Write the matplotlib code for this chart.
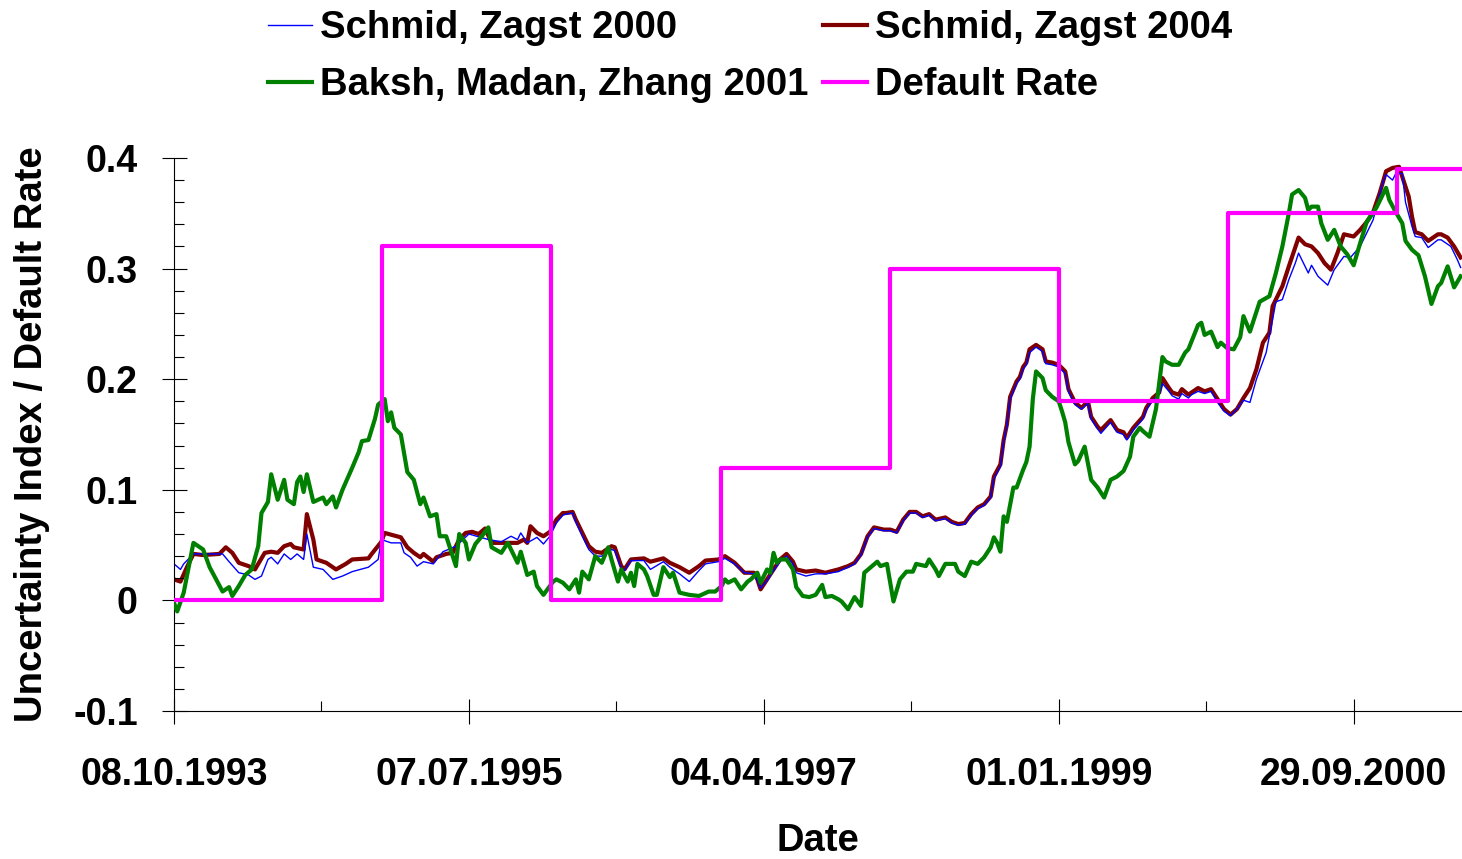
import numpy as np
import matplotlib
matplotlib.use('Agg')
import matplotlib.pyplot as plt
import matplotlib.dates as mdates
from matplotlib.ticker import MultipleLocator, AutoMinorLocator, FixedLocator

# Series are sampled weekly, starting at 08.10.1993 (x = weeks since start)
start = np.datetime64('1993-10-08')

sz2000_weeks = [0, 2, 3, 6, 15, 17, 20, 23, 25, 27, 29, 30, 32, 34, 36, 38, 40, 41, 43, 46,
                49, 52, 55, 60, 63, 64, 67, 70, 71, 73, 75, 77, 80, 83, 87, 91, 97, 101, 104, 106,
                107, 109, 112, 114, 116, 118, 120, 121, 123, 124, 126, 128, 130, 132, 135, 136, 138, 139, 141, 145,
                147, 151, 153, 156, 159, 162, 164, 168, 170, 173, 176, 179, 180, 181, 183, 185, 187, 189, 191, 192,
                195, 198, 201, 205, 208, 210, 212, 214, 216, 219, 221, 223, 225, 227, 229, 231, 233, 235, 238, 240,
                242, 244, 246, 248, 250, 252, 253, 255, 256, 257, 258, 260, 261, 262, 263, 264, 266, 268, 269, 271,
                273, 275, 276, 278, 280, 282, 283, 285, 286, 289, 291, 293, 294, 296, 299, 300, 302, 304, 305, 307,
                308, 310, 311, 313, 314, 316, 318, 320, 322, 324, 326, 328, 330, 332, 334, 337, 339, 340, 342, 344,
                346, 347, 350, 351, 353, 356, 358, 361, 363, 366, 368, 370, 373, 374, 376, 377, 379, 380, 382, 383,
                385, 387, 390, 391, 394, 396, 397]
sz2000_vals = [0.033, 0.028, 0.033, 0.042, 0.042, 0.035, 0.025, 0.023, 0.019, 0.022, 0.037, 0.039, 0.033, 0.042, 0.037, 0.042, 0.037, 0.060, 0.030, 0.028,
               0.019, 0.022, 0.026, 0.030, 0.037, 0.055, 0.052, 0.052, 0.043, 0.039, 0.031, 0.035, 0.033, 0.044, 0.049, 0.060, 0.055, 0.053, 0.058, 0.055,
               0.061, 0.052, 0.057, 0.051, 0.058, 0.070, 0.077, 0.078, 0.079, 0.071, 0.058, 0.046, 0.040, 0.040, 0.046, 0.045, 0.029, 0.027, 0.036, 0.036,
               0.028, 0.035, 0.030, 0.024, 0.017, 0.027, 0.033, 0.035, 0.038, 0.033, 0.025, 0.024, 0.018, 0.011, 0.018, 0.027, 0.035, 0.040, 0.033, 0.025,
               0.022, 0.024, 0.024, 0.026, 0.030, 0.033, 0.041, 0.057, 0.065, 0.063, 0.063, 0.061, 0.072, 0.079, 0.079, 0.075, 0.077, 0.072, 0.074, 0.070,
               0.068, 0.069, 0.077, 0.083, 0.086, 0.093, 0.110, 0.121, 0.143, 0.158, 0.182, 0.196, 0.200, 0.209, 0.213, 0.224, 0.229, 0.225, 0.214, 0.213,
               0.211, 0.205, 0.189, 0.177, 0.173, 0.178, 0.164, 0.155, 0.151, 0.161, 0.152, 0.150, 0.145, 0.154, 0.164, 0.172, 0.181, 0.186, 0.196, 0.189,
               0.185, 0.182, 0.187, 0.183, 0.186, 0.189, 0.187, 0.189, 0.179, 0.171, 0.167, 0.173, 0.181, 0.179, 0.200, 0.224, 0.254, 0.270, 0.272, 0.290,
               0.305, 0.314, 0.296, 0.303, 0.293, 0.285, 0.299, 0.311, 0.310, 0.320, 0.332, 0.344, 0.378, 0.385, 0.380, 0.386, 0.386, 0.360, 0.338, 0.329,
               0.328, 0.319, 0.326, 0.326, 0.320, 0.308, 0.301]

sz2004_weeks = [0, 2, 4, 6, 9, 14, 16, 18, 20, 23, 25, 28, 30, 32, 34, 36, 37, 40, 41, 43,
                44, 47, 50, 53, 55, 60, 61, 64, 65, 70, 72, 74, 76, 77, 80, 81, 84, 86, 88, 90,
                92, 94, 96, 98, 101, 104, 106, 108, 109, 110, 112, 114, 116, 118, 120, 121, 123, 124, 126, 128,
                130, 132, 135, 136, 138, 139, 141, 145, 147, 151, 153, 156, 159, 162, 164, 168, 170, 173, 176, 179,
                180, 181, 183, 185, 187, 189, 191, 192, 195, 198, 201, 205, 208, 210, 212, 214, 216, 219, 221, 223,
                225, 227, 229, 231, 233, 235, 238, 240, 242, 244, 246, 248, 250, 252, 253, 255, 256, 257, 258, 260,
                261, 262, 263, 264, 266, 268, 269, 271, 273, 275, 276, 278, 280, 282, 283, 285, 286, 289, 291, 293,
                294, 296, 299, 300, 302, 304, 305, 307, 308, 310, 311, 313, 314, 316, 318, 320, 322, 324, 326, 328,
                330, 332, 334, 336, 338, 339, 341, 342, 344, 347, 349, 351, 353, 355, 357, 359, 361, 364, 366, 368,
                370, 372, 374, 376, 378, 379, 381, 382, 383, 385, 387, 390, 391, 393, 395, 397]
sz2004_vals = [0.019, 0.017, 0.030, 0.042, 0.041, 0.042, 0.048, 0.043, 0.034, 0.031, 0.028, 0.043, 0.044, 0.043, 0.049, 0.051, 0.048, 0.046, 0.078, 0.055,
               0.037, 0.034, 0.028, 0.033, 0.037, 0.038, 0.042, 0.053, 0.061, 0.057, 0.048, 0.043, 0.039, 0.042, 0.035, 0.039, 0.042, 0.043, 0.055, 0.061,
               0.062, 0.060, 0.065, 0.052, 0.052, 0.052, 0.052, 0.055, 0.052, 0.067, 0.061, 0.058, 0.062, 0.073, 0.079, 0.079, 0.080, 0.073, 0.061, 0.049,
               0.044, 0.043, 0.049, 0.048, 0.031, 0.028, 0.037, 0.038, 0.035, 0.038, 0.034, 0.030, 0.025, 0.031, 0.036, 0.037, 0.040, 0.034, 0.025, 0.025,
               0.019, 0.010, 0.019, 0.028, 0.037, 0.042, 0.035, 0.028, 0.026, 0.027, 0.025, 0.028, 0.031, 0.034, 0.042, 0.058, 0.066, 0.064, 0.064, 0.062,
               0.073, 0.080, 0.080, 0.076, 0.078, 0.073, 0.075, 0.071, 0.069, 0.070, 0.078, 0.084, 0.087, 0.094, 0.112, 0.123, 0.145, 0.159, 0.184, 0.198,
               0.202, 0.211, 0.215, 0.227, 0.231, 0.227, 0.216, 0.215, 0.213, 0.207, 0.191, 0.179, 0.174, 0.180, 0.166, 0.157, 0.154, 0.163, 0.154, 0.152,
               0.147, 0.156, 0.166, 0.174, 0.183, 0.188, 0.201, 0.192, 0.188, 0.186, 0.191, 0.186, 0.188, 0.192, 0.189, 0.191, 0.182, 0.173, 0.168, 0.173,
               0.183, 0.192, 0.209, 0.233, 0.242, 0.266, 0.278, 0.284, 0.302, 0.328, 0.322, 0.320, 0.314, 0.305, 0.299, 0.314, 0.331, 0.329, 0.335, 0.342,
               0.351, 0.368, 0.388, 0.391, 0.392, 0.383, 0.365, 0.347, 0.333, 0.331, 0.325, 0.331, 0.331, 0.328, 0.320, 0.310]

bmz_weeks = [0, 1, 3, 6, 9, 11, 13, 15, 17, 18, 20, 22, 24, 26, 27, 29, 30, 32, 34, 35,
             37, 38, 39, 40, 41, 43, 46, 47, 49, 50, 52, 55, 57, 58, 60, 62, 63, 65, 66, 67,
             68, 70, 72, 74, 76, 77, 79, 81, 82, 84, 87, 88, 90, 91, 93, 95, 97, 98, 101, 103,
             106, 107, 109, 111, 112, 114, 117, 118, 120, 122, 124, 125, 126, 128, 130, 132, 134, 135, 137, 138,
             140, 141, 142, 143, 145, 146, 148, 149, 151, 153, 154, 156, 159, 162, 165, 167, 169, 170, 171, 173,
             175, 177, 178, 180, 181, 183, 184, 185, 186, 187, 189, 191, 192, 194, 196, 198, 200, 201, 203, 205,
             206, 208, 210, 212, 213, 215, 217, 218, 220, 222, 224, 226, 228, 229, 232, 233, 235, 236, 238, 241,
             242, 244, 246, 248, 250, 252, 253, 254, 255, 256, 257, 259, 260, 262, 263, 264, 265, 266, 268, 269,
             271, 273, 274, 275, 276, 278, 279, 281, 283, 285, 287, 289, 291, 293, 295, 296, 298, 299, 301, 303,
             305, 306, 308, 310, 312, 313, 316, 317, 318, 320, 322, 323, 325, 327, 329, 330, 332, 335, 338, 340,
             342, 344, 345, 347, 349, 350, 351, 353, 354, 356, 358, 360, 362, 364, 366, 368, 371, 374, 375, 377,
             379, 380, 382, 384, 386, 388, 390, 391, 393, 395, 397]
bmz_vals = [-0.002, -0.010, 0.007, 0.052, 0.046, 0.030, 0.019, 0.008, 0.012, 0.004, 0.013, 0.023, 0.028, 0.049, 0.079, 0.089, 0.114, 0.091, 0.109, 0.091,
            0.087, 0.107, 0.112, 0.098, 0.114, 0.089, 0.093, 0.087, 0.094, 0.084, 0.100, 0.120, 0.134, 0.144, 0.145, 0.164, 0.177, 0.182, 0.162, 0.170,
            0.156, 0.150, 0.116, 0.109, 0.087, 0.093, 0.076, 0.078, 0.058, 0.058, 0.031, 0.060, 0.052, 0.037, 0.051, 0.058, 0.066, 0.048, 0.043, 0.052,
            0.034, 0.044, 0.023, 0.026, 0.013, 0.005, 0.017, 0.019, 0.016, 0.010, 0.019, 0.007, 0.026, 0.019, 0.040, 0.034, 0.048, 0.037, 0.017, 0.028,
            0.017, 0.025, 0.013, 0.033, 0.028, 0.022, 0.005, 0.005, 0.030, 0.021, 0.025, 0.007, 0.005, 0.004, 0.008, 0.008, 0.013, 0.019, 0.016, 0.019,
            0.010, 0.017, 0.019, 0.025, 0.016, 0.028, 0.025, 0.043, 0.034, 0.037, 0.037, 0.028, 0.012, 0.004, 0.003, 0.005, 0.014, 0.003, 0.004, 0.001,
            -0.001, -0.008, 0.003, -0.005, 0.025, 0.030, 0.035, 0.031, 0.033, -0.001, 0.019, 0.026, 0.026, 0.033, 0.031, 0.037, 0.028, 0.022, 0.033, 0.033,
            0.026, 0.022, 0.035, 0.033, 0.039, 0.048, 0.057, 0.052, 0.044, 0.076, 0.071, 0.102, 0.102, 0.118, 0.125, 0.139, 0.182, 0.207, 0.201, 0.190,
            0.184, 0.180, 0.171, 0.161, 0.143, 0.123, 0.126, 0.139, 0.109, 0.102, 0.093, 0.109, 0.112, 0.117, 0.130, 0.148, 0.156, 0.153, 0.148, 0.173,
            0.220, 0.216, 0.213, 0.213, 0.224, 0.227, 0.249, 0.251, 0.240, 0.243, 0.229, 0.233, 0.228, 0.227, 0.238, 0.257, 0.243, 0.270, 0.275, 0.296,
            0.320, 0.350, 0.367, 0.371, 0.364, 0.353, 0.356, 0.356, 0.341, 0.326, 0.335, 0.320, 0.313, 0.303, 0.323, 0.342, 0.355, 0.373, 0.362, 0.351,
            0.341, 0.325, 0.317, 0.312, 0.293, 0.268, 0.284, 0.287, 0.302, 0.283, 0.293]

# Yearly default rate (step changes)
default_dates = ['1993-10-08', '1995-01-01', '1996-01-01', '1997-01-01', '1998-01-01',
                 '1999-01-01', '2000-01-01', '2001-01-01', '2001-05-21']
default_vals = [0.0, 0.32, 0.0, 0.12, 0.30, 0.18, 0.35, 0.39, 0.39]

tick_dates = ['1993-10-08', '1995-07-07', '1997-04-04', '1999-01-01', '2000-09-29']
x_end = '2001-05-21'


def to_dates(weeks):
    return start + np.array(weeks) * np.timedelta64(7, 'D')


plt.rcParams['font.family'] = ['Liberation Sans', 'DejaVu Sans']
plt.rcParams['font.weight'] = 'bold'

fig = plt.figure(figsize=(14.62, 8.59), dpi=100)
ax = fig.add_axes([0.119, 0.1723, 0.881, 0.6438])

l1, = ax.plot(to_dates(sz2000_weeks), sz2000_vals, color='#0000FF', lw=1.0,
              label='Schmid, Zagst 2000', zorder=2)
l2, = ax.plot(to_dates(sz2004_weeks), sz2004_vals, color='#800000', lw=3.0,
              label='Schmid, Zagst 2004', zorder=1)
l3, = ax.plot(to_dates(bmz_weeks), bmz_vals, color='#008000', lw=3.0,
              label='Baksh, Madan, Zhang 2001', zorder=3)
l4, = ax.plot(np.array(default_dates, dtype='datetime64[D]'), default_vals,
              color='#FF00FF', lw=3.0, drawstyle='steps-post',
              label='Default Rate', zorder=4)

ax.set_xlim(start, np.datetime64(x_end))
ax.set_ylim(-0.1, 0.4)

# axes look
for s in ['top', 'right']:
    ax.spines[s].set_visible(False)
for s in ['left', 'bottom']:
    ax.spines[s].set_linewidth(0.8)

ax.xaxis.set_major_locator(FixedLocator(mdates.date2num(np.array(tick_dates, dtype='datetime64[D]'))))
ax.xaxis.set_minor_locator(AutoMinorLocator(2))
ax.xaxis.set_major_formatter(mdates.DateFormatter('%d.%m.%Y'))
ax.yaxis.set_major_locator(MultipleLocator(0.1))
ax.yaxis.set_minor_locator(MultipleLocator(0.02))
ax.yaxis.set_major_formatter(plt.FuncFormatter(lambda v, p: '0' if abs(v) < 1e-9 else '%g' % round(v, 2)))

ax.tick_params(axis='x', which='major', direction='inout', length=18, width=0.8, labelsize=27, pad=24)
ax.tick_params(axis='y', which='major', direction='inout', length=18, width=0.8, labelsize=27, pad=17)
ax.tick_params(which='minor', direction='in', length=7, width=0.8)

ax.set_xlabel('Date', fontsize=27.5, fontweight='bold')
ax.set_ylabel('Uncertainty Index / Default Rate', fontsize=27.5, fontweight='bold')
ax.xaxis.set_label_coords(0.5, -0.202)
ax.yaxis.set_label_coords(-0.096, 0.5)

# legend: two rows, two columns
fig.legend([l1, l3, l2, l4], [l1.get_label(), l3.get_label(), l2.get_label(), l4.get_label()],
           ncol=2, loc='upper left', bbox_to_anchor=(268 / 1462, 1 - 10 / 859),
           frameon=False, fontsize=27.5, handlelength=1.15, handletextpad=0.2,
           columnspacing=0.4, labelspacing=0.55, borderpad=0, borderaxespad=0)

fig.savefig('out.png', dpi=100)
